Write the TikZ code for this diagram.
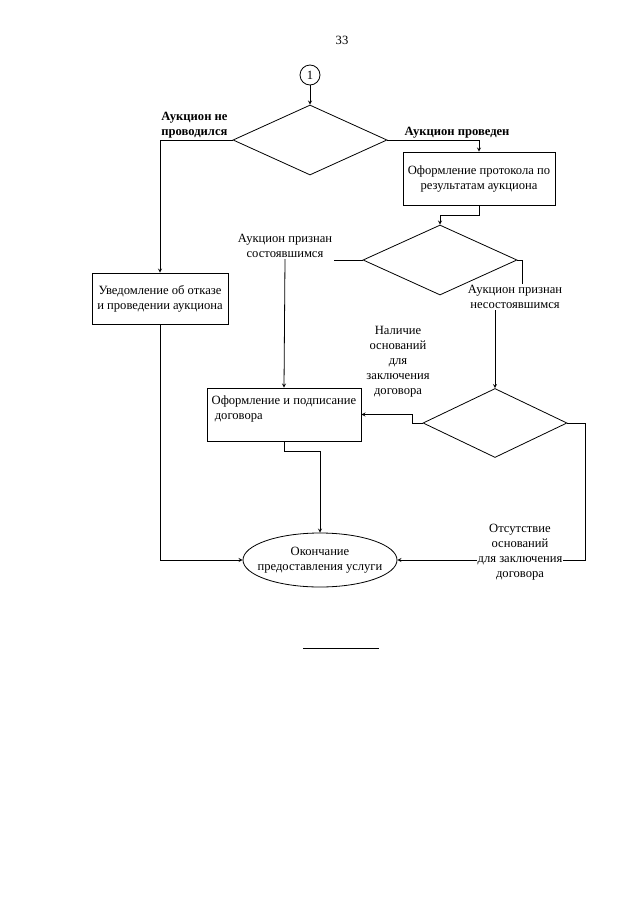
\documentclass[tikz,border=0pt]{standalone}
\usepackage{fontspec}
\setmainfont{Liberation Serif}
\usetikzlibrary{shapes.geometric,positioning}
\tikzset{
	box/.style={draw, rectangle, align=center, inner sep=1pt},
	choice/.style={draw, diamond, inner sep=0pt},
	lbl/.style={align=center, inner sep=1pt},
}
\begin{document}
\begin{tikzpicture}[x=1pt, y=-1pt, line width=0.8pt, font=\fontsize{12.6}{15}\selectfont, >=stealth]
		\useasboundingbox (0,0) rectangle (640,905);
		\node (pg) at (342,40) {33};

		\node[draw, circle, minimum size=20pt, inner sep=0pt] (start) at (310,75) {1};
		\node[choice, minimum width=154pt, minimum height=70pt] (d1) at (310,140) {};
		\draw[->] (start) -- (d1);

		\node[box, minimum width=136pt, minimum height=51pt] (b1) at (160,298.5) {Уведомление об отказе\\и проведении аукциона};
		\node[box, minimum width=152pt, minimum height=53pt] (b2) at (479,178.5) {Оформление протокола по\\результатам аукциона};
		\draw[->] (d1.west) -| node[pos=0.5, above right, lbl, align=left, font=\fontsize{12.6}{15}\selectfont\bfseries]{Аукцион не\\проводился} (b1.north);
		\draw[->] (d1.east) -| node[pos=0.38, above, lbl, font=\fontsize{12.6}{15}\selectfont\bfseries]{Аукцион проведен} (b2.north);

		\node[choice, minimum width=154pt, minimum height=70pt] (d2) at (440,260) {};
		\draw[->] (b2.south) -- ++(0,10) -| (d2.north);

		\node[lbl] (sost) at (285,246) {Аукцион признан\\состоявшимся};
		\draw (d2.west) -- (d2.west -| sost.east);

		\node[box, minimum width=154pt, minimum height=53pt, align=left, text depth=14pt] (b3) at (284,414.5) {Оформление и подписание\\\ договора};
		\draw[->] (sost.south) -- (b3.north);

		\node[lbl] (nesost) at (515,297) {Аукцион признан\\несостоявшимся};
		\node[choice, minimum width=144pt, minimum height=69pt] (d3) at (495,423) {};
		\draw (d2.east) -- ++(5,0) coordinate (r2) -- (r2 |- nesost.north);
		\draw[->] (nesost.south -| d3.north) -- (d3.north);

		\node[lbl] (nal) at (398,362) {Наличие\\оснований\\для\\заключения\\договора};
		\draw[->] (d3.west) -- ++(-10,0) |- (b3.east);

		\node[draw, ellipse, minimum width=154pt, minimum height=54pt, align=center, inner xsep=-8pt, inner ysep=0pt] (end) at (320,560) {Окончание\\предоставления услуги};
		\draw[->] (b3.south) -- ++(0,10) -| (end.north);
		\draw[->] (b1.south) |- (end.west);
		\draw[->] (d3.east) -- ++(18,0) |- (end.east);
		\node[lbl, fill=white] (ots) at (520,552) {Отсутствие\\оснований\\для заключения\\договора};

		\draw (303,648) -- (379,648);
		\end{tikzpicture}
\end{document}
